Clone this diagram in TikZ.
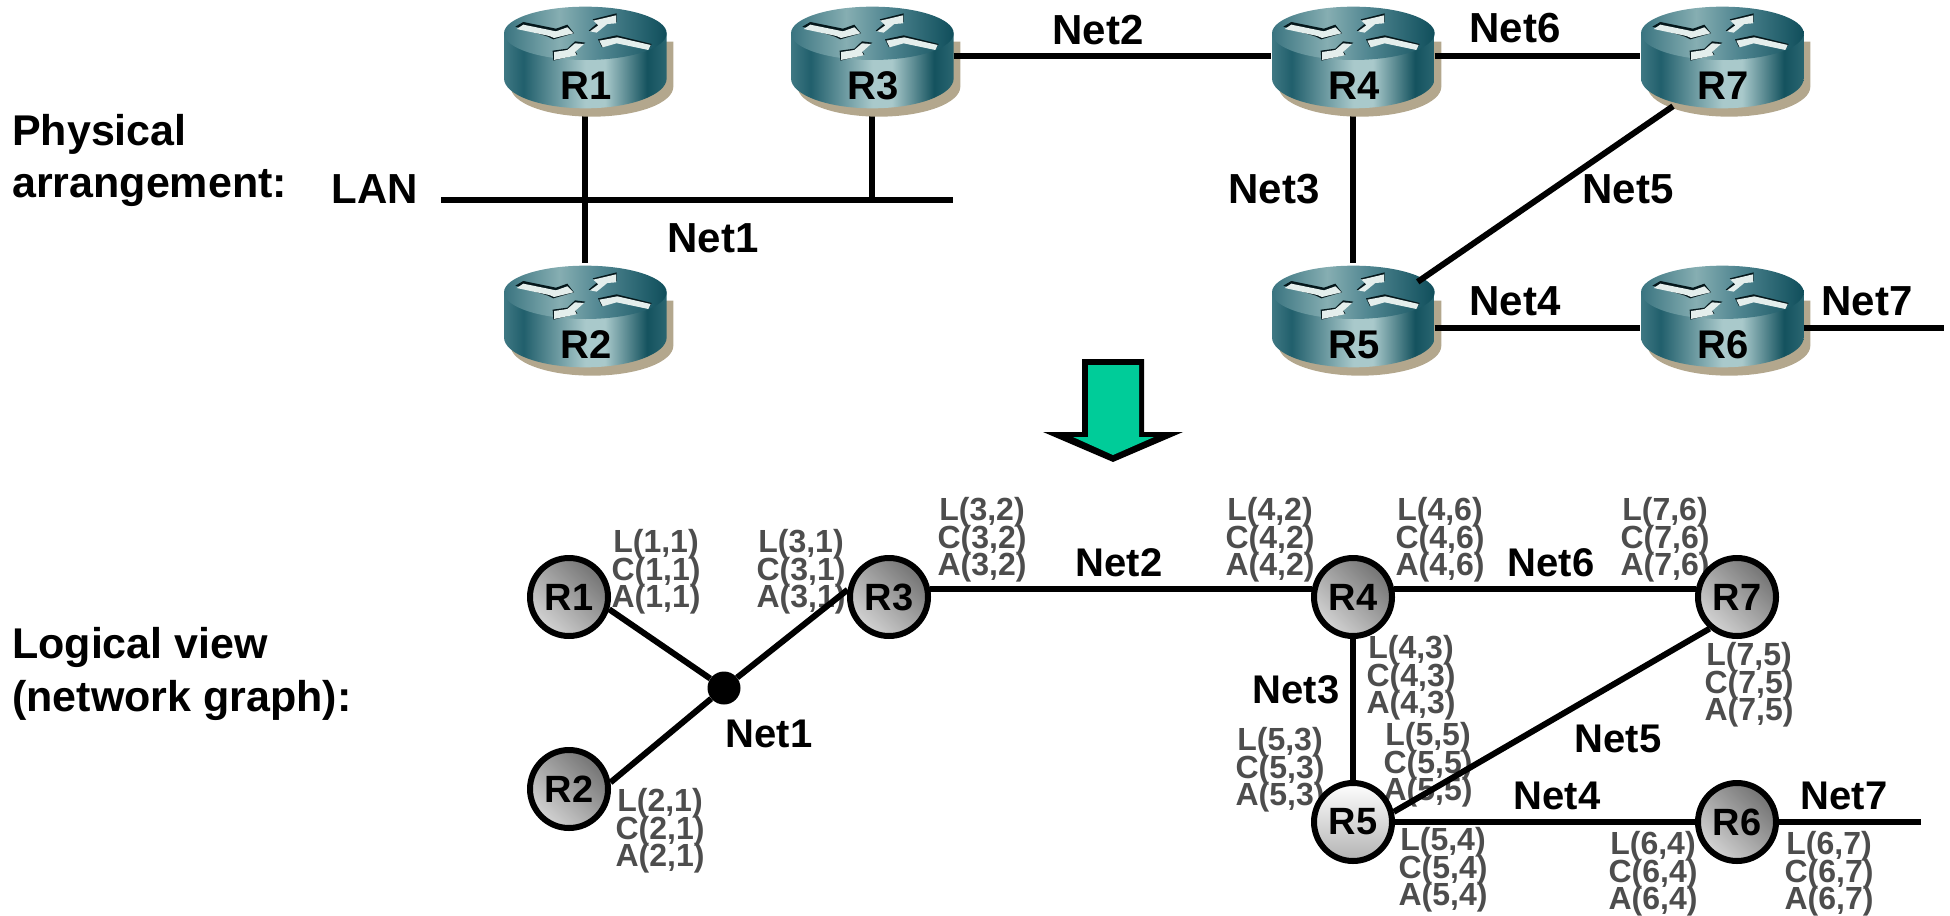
\documentclass[tikz,border=0pt]{standalone}
\usepackage{fontspec}
\setmainfont{Liberation Sans}
\usetikzlibrary{calc}
\definecolor{rb1}{HTML}{3F7883}
\definecolor{rb2}{HTML}{215F6C}
\definecolor{rb3}{HTML}{A9C9CB}
\definecolor{rb4}{HTML}{14525E}
\definecolor{rb5}{HTML}{2A6671}
\definecolor{rt1}{HTML}{3A7480}
\definecolor{rt2}{HTML}{86AEB2}
\definecolor{rt3}{HTML}{4F8590}
\definecolor{rt4}{HTML}{0F4E5B}
\definecolor{rshadow}{HTML}{B3A78D}
\definecolor{rarrow}{HTML}{E4EEEC}
\definecolor{smalltext}{HTML}{4D4D4D}
\definecolor{teal1}{HTML}{00CC99}
\pgfdeclarehorizontalshading{routerbody}{100bp}{color(0bp)=(rb1);color(25bp)=(rb1);color(31bp)=(rb2);color(50bp)=(rb3);color(56bp)=(rb3);color(69bp)=(rb4);color(75bp)=(rb5);color(100bp)=(rb5)}
\pgfdeclarehorizontalshading{routertop}{100bp}{color(0bp)=(rt1);color(25bp)=(rt1);color(42bp)=(rt2);color(55bp)=(rt3);color(75bp)=(rt4);color(100bp)=(rt4)}
\newcommand{\stackfont}{\fontsize{32}{27.5}\bfseries\selectfont\setlength{\lineskiplimit}{-100pt}\setlength{\lineskip}{0pt}}
\tikzset{
  big/.style={font=\fontsize{42}{42}\bfseries\selectfont,inner sep=0pt,text=black},
  mid/.style={font=\fontsize{40}{40}\bfseries\selectfont,inner sep=0pt,text=black},
  side/.style={font=\fontsize{43}{43}\bfseries\selectfont,inner sep=0pt,text=black,anchor=base west},
  small/.style={font=\stackfont,inner sep=0pt,text=smalltext,align=center},
  wire/.style={draw=black,line width=6pt},
  rbox/.style={rectangle,minimum width=163pt,minimum height=104pt,inner sep=0pt},
  gbase/.style={circle,draw=black,line width=6pt,minimum size=78pt,inner sep=0pt,font=\fontsize{38}{38}\bfseries\selectfont},
  gnode/.style={gbase,left color=black!55,right color=black!17,shading angle=-45},
  gball/.style={gbase,top color=white,middle color=black!18,bottom color=black!30},
  rlabel/.style={font=\fontsize{40}{40}\bfseries\selectfont,inner sep=0pt,text=black},
}
\newcommand{\myrouter}[4]{%
  \begin{scope}[shift={(#2-105,#3)},scale=1/3]
    \fill[rshadow] (92,125) -- (92,260) arc[start angle=180,end angle=0,x radius=244,y radius=90] -- (580,125) -- cycle;
    \shade[shading=routerbody] (72,100) -- (72,235) arc[start angle=180,end angle=0,x radius=244,y radius=90] -- (560,100) -- cycle;
    \shade[shading=routertop] (316,100) ellipse[x radius=244,y radius=80];
    \fill[black!70!rt4] (106,80) -- (130,66) -- (228,86) -- (262,74) -- (282,100) -- (220,118) -- (204,110) -- cycle
      (326,92) -- (352,70) -- (338,58) -- (410,40) -- (410,66) -- (380,68) -- (350,96) -- cycle
      (354,118) -- (410,106) -- (515,132) -- (505,148) -- (410,126) -- (366,142) -- cycle
      (218,152) -- (262,146) -- (285,124) -- (316,128) -- (285,152) -- (292,164) -- (220,182) -- cycle;
    \fill[rarrow] (110,87) -- (130,74) -- (228,94) -- (262,82) -- (280,100) -- (222,114) -- (208,108) -- cycle
      (330,94) -- (355,76) -- (340,62) -- (408,46) -- (408,70) -- (382,72) -- (350,98) -- cycle
      (358,122) -- (412,112) -- (512,135) -- (505,150) -- (410,130) -- (368,142) -- cycle
      (222,156) -- (262,150) -- (285,130) -- (312,132) -- (285,156) -- (290,166) -- (222,180) -- cycle;
  \end{scope}
  \node[rlabel] (#1t) at (#2+1,#3+86) {#4};
}
\begin{document}
\begin{tikzpicture}[x=1pt,y=-1pt]
\useasboundingbox (0,0) rectangle (1950,915);
% upper nodes
\node[rbox] (r1) at (585,56) {};
\node[rbox] (r2) at (585,315) {};
\node[rbox] (r3) at (872,56) {};
\node[rbox] (r4) at (1353,56) {};
\node[rbox] (r5) at (1353,315) {};
\node[rbox] (r6) at (1722,315) {};
\node[rbox] (r7) at (1722,56) {};
\coordinate (lanW) at (441,200);
\coordinate (lanE) at (953,200);
\coordinate (net7E) at (1944,328);
% upper connectors behind the routers
\draw[wire] (lanW) -- (lanE);
\draw[wire] (r1.south) -- (r2.north);
\draw[wire] (r3.south) -- (r3.south |- lanE);
\draw[wire] (r4.south) -- (r5.north);
% routers
\myrouter{R1}{585}{0}{R1}
\myrouter{R2}{585}{259}{R2}
\myrouter{R3}{872}{0}{R3}
\myrouter{R4}{1353}{0}{R4}
\myrouter{R5}{1353}{259}{R5}
\myrouter{R6}{1722}{259}{R6}
\myrouter{R7}{1722}{0}{R7}
% upper connectors over the router shadows
\draw[wire] (r3.east) -- (r4.west);
\draw[wire] (r4.east) -- (r7.west);
\draw[wire] ($(r7.south)+(-49,-2)$) -- ($(r5.north east)+(-17,19)$);
\draw[wire] ($(r5.east)+(0,13)$) -- ($(r6.west)+(0,13)$);
\draw[wire] ($(r6.east)+(0,13)$) -- (net7E);
% upper labels
\node[side] (phys1) at (12,145) {Physical};
\node[side] (phys2) at (12,197) {arrangement:};
\node[big] (lan) at (375,189) {LAN};
\node[big] (n1) at (713,238) {Net1};
\node[big] (n2) at (1098,30) {Net2};
\node[big] (n6) at (1515,28) {Net6};
\node[big] (n3) at (1274,189) {Net3};
\node[big] (n5) at (1628,189) {Net5};
\node[big] (n4) at (1515,301) {Net4};
\node[big] (n7) at (1867,301) {Net7};
% arrow
\fill[black] (1082,359) -- (1144,359) -- (1144,432) -- (1183,432) -- (1113,462) -- (1043,432) -- (1082,432) -- cycle;
\fill[teal1] (1088,365) -- (1139,365) -- (1139,437) -- (1154,437) -- (1113,455) -- (1073,437) -- (1088,437) -- cycle;
% lower labels
\node[side] (log1) at (12,658) {Logical view};
\node[side] (log2) at (12,711) {(network graph):};
\node[small] (l11) at (656,572) {L(1,1)\\C(1,1)\\A(1,1)};
\node[small] (l31) at (801,572) {L(3,1)\\C(3,1)\\A(3,1)};
\node[small] (l32) at (982,540) {L(3,2)\\C(3,2)\\A(3,2)};
\node[small] (l42) at (1270,540) {L(4,2)\\C(4,2)\\A(4,2)};
\node[small] (l46) at (1440,540) {L(4,6)\\C(4,6)\\A(4,6)};
\node[small] (l76) at (1665,540) {L(7,6)\\C(7,6)\\A(7,6)};
\node[small] (l43) at (1411,678) {L(4,3)\\C(4,3)\\A(4,3)};
\node[small] (l75) at (1749,685) {L(7,5)\\C(7,5)\\A(7,5)};
\node[small] (l55) at (1428,765) {L(5,5)\\C(5,5)\\A(5,5)};
\node[small] (l53) at (1280,770) {L(5,3)\\C(5,3)\\A(5,3)};
\node[small] (l54) at (1443,870) {L(5,4)\\C(5,4)\\A(5,4)};
\node[small] (l64) at (1653,874) {L(6,4)\\C(6,4)\\A(6,4)};
\node[small] (l67) at (1829,874) {L(6,7)\\C(6,7)\\A(6,7)};
\node[small] (l21) at (660,831) {L(2,1)\\C(2,1)\\A(2,1)};
\node[mid] (g1) at (769,734) {Net1};
\node[mid] (g2) at (1119,563) {Net2};
\node[mid] (g6) at (1551,563) {Net6};
\node[mid] (g3) at (1296,690) {Net3};
\node[mid] (g5) at (1618,739) {Net5};
\node[mid] (g4) at (1557,796) {Net4};
\node[mid] (g7) at (1844,796) {Net7};
% graph nodes
\node[circle,fill=black,minimum size=33pt,inner sep=0pt] (dot) at (724,688) {};
\coordinate (gr7E) at (1921,822);
\node[gnode] (G1) at (569,597) {R1};
\node[gnode] (G2) at (569,789) {R2};
\node[gnode] (G3) at (889,597) {R3};
\node[gnode] (G4) at (1353,597) {R4};
\node[gball] (G5) at (1353,822) {R5};
\node[gnode] (G6) at (1737,822) {R6};
\node[gnode] (G7) at (1737,597) {R7};
\draw[wire] (G1.-17) -- (dot);
\draw[wire] (G2.9) -- (dot);
\draw[wire] (G3.170) -- (dot);
\draw[wire] (G3.11) -- (G4.169);
\draw[wire] (G4.11) -- (G7.169);
\draw[wire] (G4.south) -- (G5.north);
\draw[wire] (G7.229) -- (G5.14);
\draw[wire] (G5.east) -- (G6.west);
\draw[wire] (G6.east) -- (gr7E);
\end{tikzpicture}
\end{document}
